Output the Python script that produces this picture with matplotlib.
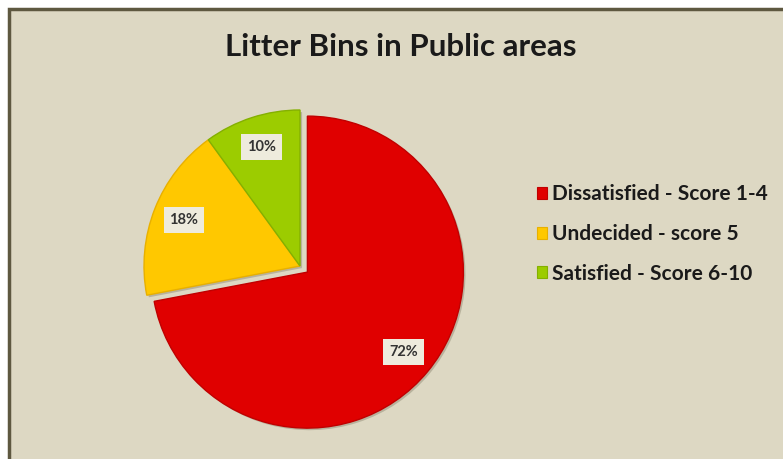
import matplotlib
matplotlib.use("Agg")
import matplotlib.pyplot as plt
import matplotlib.patches as mpatches
import matplotlib.patheffects as pe

W, H = 783, 459

TITLE = "Litter Bins in Public areas"
LABELS = ["Dissatisfied - Score 1-4", "Undecided - score 5", "Satisfied - Score 6-10"]
SHARES = [72, 18, 10]
COLORS = ["#E00000", "#FFC800", "#9CCC00"]
EDGES = ["#C00000", "#E8B000", "#84B000"]
EXPLODE = [0.06, 0, 0]

BG = "#DDD8C3"
FRAME = "#5E5840"

plt.rcParams["font.family"] = ["Lato", "DejaVu Sans"]

fig = plt.figure(figsize=(W / 100, H / 100), dpi=100, facecolor="white")

# chart area frame (runs off the right/bottom edges like the screenshot)
bg = fig.add_axes([0, 0, 1, 1], zorder=0)
bg.set_xlim(0, W)
bg.set_ylim(H, 0)
bg.axis("off")
bg.add_patch(mpatches.Rectangle((9, 9), W + 20, H + 20, facecolor=BG, edgecolor=FRAME,
                                linewidth=2.5))

# pie axes: centre (300, 266) px, radius ~152 px
cx, cy, r = 300, 266, 155
half = 200
ax = fig.add_axes([(cx - half) / W, 1 - (cy + half) / H, 2 * half / W, 2 * half / H], zorder=1)
ax.set_xlim(-half / r, half / r)
ax.set_ylim(-half / r, half / r)
ax.set_aspect("equal")
ax.axis("off")

wedges, texts, autotexts = ax.pie(
    SHARES, colors=COLORS, explode=EXPLODE, startangle=90, counterclock=False,
    autopct="%d%%", pctdistance=0.8, radius=0.975,
    wedgeprops=dict(linewidth=1),
    textprops=dict(fontsize=10.5, fontweight="bold", color="#333333"))
for w, ec in zip(wedges, EDGES):
    w.set_edgecolor(ec)
    w.set_path_effects([pe.SimplePatchShadow(offset=(1.5, -1.5), shadow_rgbFace="#A09A84", alpha=0.6),
                        pe.Normal()])
for t in autotexts:
    t.set_bbox(dict(boxstyle="square,pad=0.4", facecolor="#EEEBDD", edgecolor="none"))

fig.text(401 / W, 1 - 47 / H, TITLE, ha="center", va="center",
         fontsize=22.5, fontweight="bold", color="#1A1A1A", zorder=2)

handles = [mpatches.Patch(facecolor=c, edgecolor=e, linewidth=0.8) for c, e in zip(COLORS, EDGES)]
leg = fig.legend(handles, LABELS, loc="center left", bbox_to_anchor=(518 / W, 1 - 234 / H),
                 frameon=False, handlelength=0.5, handleheight=0.5, handletextpad=0.25,
                 labelspacing=0.95, prop=dict(size=15, weight="bold"), labelcolor="#1A1A1A")
leg.set_zorder(2)

fig.savefig("out.png", dpi=100, facecolor="white")
